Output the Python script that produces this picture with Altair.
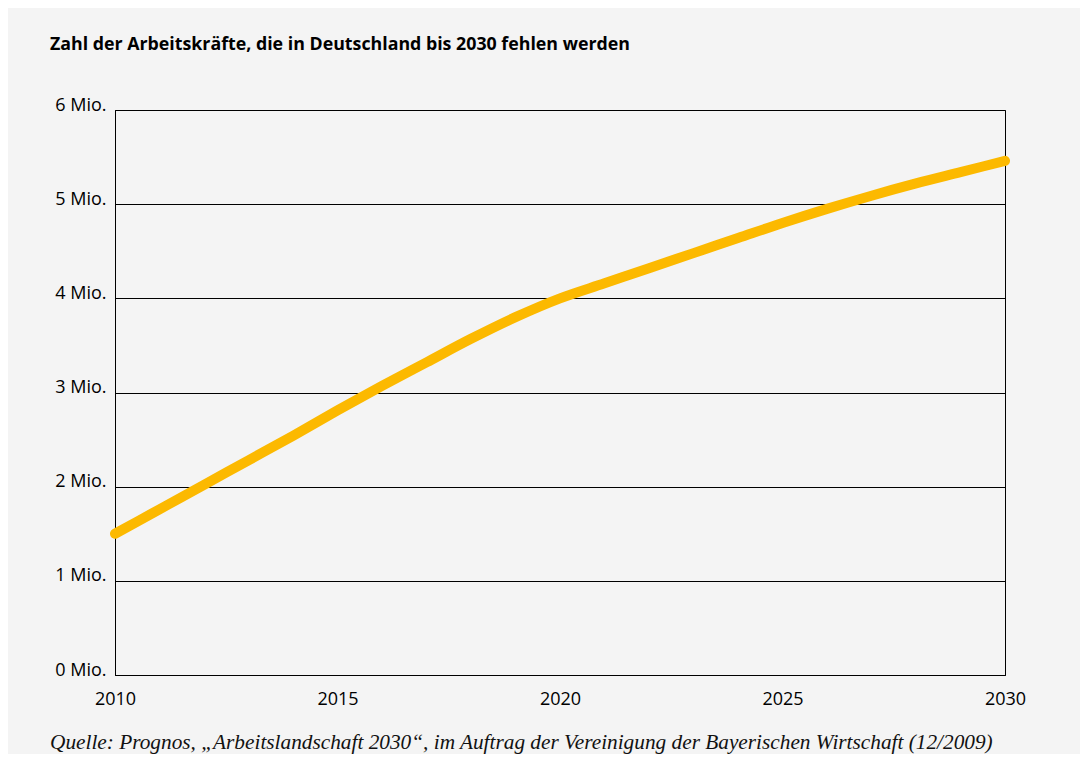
import altair as alt
import pandas as pd

years = list(range(2010, 2031))
values = [1.50, 1.76, 2.02, 2.28, 2.54, 2.81, 3.07, 3.32, 3.57, 3.80, 4.00,
          4.16, 4.32, 4.48, 4.64, 4.80, 4.95, 5.09, 5.22, 5.34, 5.46]
x_ticks = [2010, 2015, 2020, 2025, 2030]
y_ticks = [0, 1, 2, 3, 4, 5, 6]
title_text = "Zahl der Arbeitskräfte, die in Deutschland bis 2030 fehlen werden"
source_text = "Quelle: Prognos, \u201eArbeitslandschaft 2030\u201c, im Auftrag der Vereinigung der Bayerischen Wirtschaft (12/2009)"

W, H = 890, 565
BG = "#f4f4f4"
LABEL_FONT = "Open Sans"

df = pd.DataFrame({"year": years, "value": values})

line = alt.Chart(df).mark_line(
    color="#fcb900", strokeWidth=10, strokeCap="round", interpolate="monotone"
).encode(
    x=alt.X("year:Q",
            scale=alt.Scale(domain=[2010, 2030], nice=False, zero=False),
            axis=alt.Axis(values=x_ticks, format="d", title=None, grid=False,
                          ticks=False, labelPadding=15, domainColor="black",
                          labelFont=LABEL_FONT, labelFontSize=18,
                          labelColor="black", labelFlush=False)),
    y=alt.Y("value:Q",
            scale=alt.Scale(domain=[0, 6], nice=False),
            axis=alt.Axis(values=y_ticks, labelExpr="datum.value + ' Mio.'",
                          title=None, grid=True, gridColor="black",
                          gridOpacity=1, ticks=False, domain=True,
                          domainColor="black", labelBaseline="alphabetic",
                          labelPadding=9, labelFont=LABEL_FONT,
                          labelFontSize=18, labelColor="black")),
)

title = alt.Chart(pd.DataFrame({"t": [title_text]})).mark_text(
    align="left", baseline="alphabetic", fontWeight="bold", fontSize=17.8,
    font="Open Sans", color="black"
).encode(x=alt.value(-65), y=alt.value(-60), text="t:N")

source = alt.Chart(pd.DataFrame({"t": [source_text]})).mark_text(
    align="left", baseline="alphabetic", fontStyle="italic", fontSize=21.3,
    font="Liberation Serif", color="#111111"
).encode(x=alt.value(-65), y=alt.value(639), text="t:N")

chart = alt.layer(line, title, source).properties(
    width=W, height=H,
    background=BG,
    padding={"left": 107, "top": 102, "right": 75, "bottom": 79},
    autosize=alt.AutoSizeParams(type="none"),
).configure_view(stroke="black", strokeWidth=1, fill=BG)

chart.save("out.html", embed_options={"renderer": "svg", "actions": False})
